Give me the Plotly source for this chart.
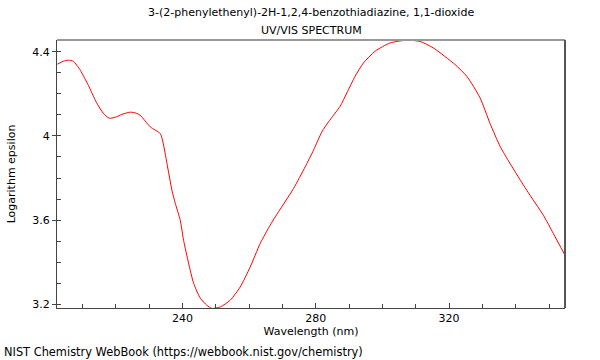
import plotly.graph_objects as go

wavelength = [202.4, 204.2, 205.7, 207.2, 209.3, 211.7, 214.1, 216.2, 218.0, 219.8,
              221.9, 224.3, 226.1, 227.3, 230.3, 233.3, 234.1, 235.3, 236.8, 237.8,
              239.3, 240.3, 241.8, 243.3, 245.3, 247.3, 248.8, 251.3, 254.3, 257.3,
              260.3, 263.3, 266.3, 267.8, 273.3, 276.8, 279.3, 281.8, 283.8, 287.3,
              289.3, 291.8, 294.3, 297.8, 302.3, 307.3, 311.3, 315.3, 321.8, 325.3,
              329.3, 332.3, 335.3, 338.3, 343.3, 348.3, 351.3, 354.8]
log_eps = [4.341, 4.355, 4.360, 4.355, 4.312, 4.241, 4.160, 4.108, 4.084, 4.089,
           4.103, 4.113, 4.108, 4.098, 4.043, 4.011, 3.971, 3.870, 3.742, 3.680,
           3.599, 3.504, 3.395, 3.300, 3.229, 3.195, 3.180, 3.187, 3.219, 3.282,
           3.377, 3.489, 3.576, 3.615, 3.750, 3.853, 3.932, 4.019, 4.067, 4.141,
           4.204, 4.284, 4.347, 4.403, 4.442, 4.455, 4.449, 4.418, 4.339, 4.284,
           4.181, 4.059, 3.951, 3.869, 3.742, 3.623, 3.536, 3.433]

x_ticks = [240, 280, 320]
y_ticks = [3.2, 3.6, 4.0, 4.4]
y_tick_labels = ["3.2", "3.6", "4", "4.4"]

font_family = "DejaVu Sans"
fs = 11

L, R, T, B = 57, 35, 40, 52
W, H = 600, 360
pw, ph = W - L - R, H - T - B

def px_y(py):
    return (H - B - py) / ph

def px_x(px):
    return (px - L) / pw

fig = go.Figure()
fig.add_trace(go.Scatter(x=wavelength, y=log_eps, mode="lines",
                         line=dict(color="#ff0000", width=1, shape="spline", smoothing=0.6),
                         hoverinfo="skip", showlegend=False))

fig.update_layout(
    width=W, height=H,
    margin=dict(l=L, r=R, t=T, b=B, autoexpand=False),
    paper_bgcolor="white", plot_bgcolor="white",
    font=dict(family=font_family, size=fs, color="#000"),
    showlegend=False,
)

fig.update_xaxes(
    range=[202.3, 354.8], showgrid=False, zeroline=False, automargin=False,
    showline=True, linecolor="#444", linewidth=1, mirror=False,
    tickvals=x_ticks, ticks="inside", ticklen=5, tickcolor="#444",
    minor=dict(dtick=10, tick0=200, ticks="inside", ticklen=4, tickcolor="#444"),
    title=dict(text="Wavelength (nm)", standoff=3, font=dict(size=fs)),
    tickfont=dict(size=fs),
)
fig.update_yaxes(
    range=[3.182, 4.456], showgrid=False, zeroline=False, automargin=False,
    showline=True, linecolor="#444", linewidth=1, mirror=False,
    tickvals=y_ticks, ticktext=y_tick_labels, ticks="outside", ticklen=4, tickcolor="#444",
    minor=dict(dtick=0.1, tick0=3.2, ticks="inside", ticklen=4, tickcolor="#444"),
    title=dict(text="Logarithm epsilon", standoff=14, font=dict(size=fs)),
    tickfont=dict(size=fs),
)

# frame: top (light gray) and right (dark gray)
fig.add_shape(type="line", xref="paper", yref="paper", x0=0, x1=1, y0=1, y1=1,
              line=dict(color="#999", width=2))
fig.add_shape(type="line", xref="paper", yref="paper", x0=1, x1=1, y0=0, y1=1,
              line=dict(color="#555", width=2))

fig.add_annotation(text="3-(2-phenylethenyl)-2H-1,2,4-benzothiadiazine, 1,1-dioxide",
                   xref="paper", yref="paper", x=px_x(311), y=px_y(13),
                   xanchor="center", yanchor="middle", showarrow=False,
                   font=dict(family=font_family, size=fs))
fig.add_annotation(text="UV/VIS SPECTRUM",
                   xref="paper", yref="paper", x=px_x(311), y=px_y(30),
                   xanchor="center", yanchor="middle", showarrow=False,
                   font=dict(family=font_family, size=fs))
fig.add_annotation(text="NIST Chemistry WebBook (https://webbook.nist.gov/chemistry)",
                   xref="paper", yref="paper", x=px_x(2), y=px_y(352),
                   xanchor="left", yanchor="middle", showarrow=False,
                   font=dict(family=font_family, size=11.4))

fig.write_html("out.html", config={"displayModeBar": False},
               post_script="document.body.style.margin='0';document.body.style.overflow='hidden';")
